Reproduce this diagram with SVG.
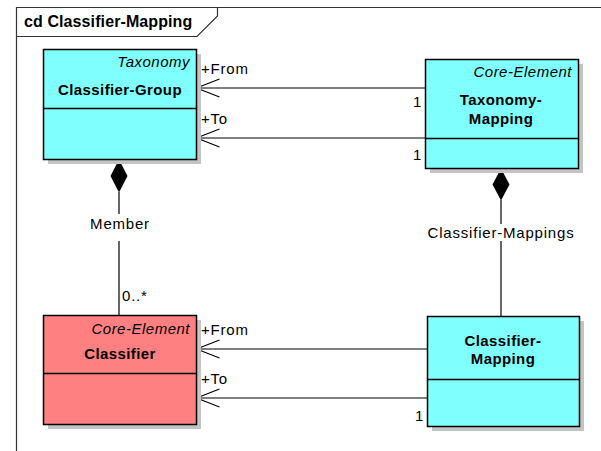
<svg xmlns="http://www.w3.org/2000/svg" width="601" height="451" viewBox="0 0 601 451">
<style>
text{font-family:"Liberation Sans",Arial,sans-serif;fill:#000}
.t{font-size:15px;letter-spacing:0.8px}
.b{font-weight:bold;letter-spacing:0.4px}
.i{font-style:italic;letter-spacing:0.5px}
.box{stroke:#000;stroke-width:1.5}
.sh{fill:#c4c4c4}
.cy{fill:#80ffff}
.rd{fill:#ff8080}
.ln{stroke:#000;stroke-width:1.2;fill:none}
.mid{text-anchor:middle}
.end{text-anchor:end}
</style>
<defs>
<marker id="open" markerWidth="26" markerHeight="22" refX="24" refY="10" orient="auto" markerUnits="userSpaceOnUse">
<path d="M1,1 L24,10 L1,19" fill="none" stroke="#000" stroke-width="1.2"/>
</marker>
</defs>
<rect width="601" height="451" fill="#fff"/>
<g id="frame">
<path d="M16.5,451 V7.5 H601" fill="none" stroke="#333" stroke-width="1.2"/>
<path d="M16.5,36.5 H197 L217.5,16 V7.5" fill="none" stroke="#333" stroke-width="1.2"/>
<text x="24" y="27" style="font-size:16px;font-weight:bold;letter-spacing:0.1px">cd Classifier-Mapping</text>
</g>
<g id="connectors">
<line class="ln" x1="425" y1="88" x2="196.5" y2="88" marker-end="url(#open)"/>
<line class="ln" x1="425" y1="138" x2="196.5" y2="138" marker-end="url(#open)"/>
<line class="ln" x1="427" y1="349" x2="196.5" y2="349" marker-end="url(#open)"/>
<line class="ln" x1="427" y1="398" x2="196.5" y2="398" marker-end="url(#open)"/>
<text x="201" y="74" class="t">+From</text>
<text x="201" y="124" class="t">+To</text>
<text x="201" y="335" class="t">+From</text>
<text x="201" y="384" class="t">+To</text>
<text x="413" y="107" class="t">1</text>
<text x="413" y="160" class="t">1</text>
<text x="415" y="421" class="t">1</text>
<path d="M119,159.5 L127.5,176 L119,192.5 L110.5,176 Z" fill="#000"/>
<line class="ln" x1="119" y1="192" x2="119" y2="214"/>
<line class="ln" x1="119" y1="241" x2="119" y2="315"/>
<text x="120" y="229" class="t mid">Member</text>
<text x="122" y="301" class="t">0..*</text>
<path d="M501,168.5 L509.5,184.5 L501,200.5 L492.5,184.5 Z" fill="#000"/>
<line class="ln" x1="501" y1="200" x2="501" y2="224"/>
<line class="ln" x1="501" y1="241" x2="501" y2="316"/>
<text x="501" y="238" class="t mid">Classifier-Mappings</text>
</g>
<g id="classifier-group">
<rect class="sh" x="48" y="54" width="153" height="110"/>
<rect class="box cy" x="43.5" y="49.5" width="153" height="110"/>
<line class="box" x1="43.5" y1="108.5" x2="196.5" y2="108.5"/>
<text x="190" y="67" class="t i end">Taxonomy</text>
<text x="120" y="95" class="t b mid">Classifier-Group</text>
</g>
<g id="taxonomy-mapping">
<rect class="sh" x="430" y="64" width="153" height="109"/>
<rect class="box cy" x="425.5" y="59.5" width="153" height="109"/>
<line class="box" x1="425.5" y1="138.5" x2="578.5" y2="138.5"/>
<text x="572" y="77" class="t i end">Core-Element</text>
<text x="501" y="105" class="t b mid">Taxonomy-</text>
<text x="501" y="124" class="t b mid">Mapping</text>
</g>
<g id="classifier">
<rect class="sh" x="48" y="320" width="153" height="109"/>
<rect class="box rd" x="43.5" y="315.5" width="153" height="109"/>
<line class="box" x1="43.5" y1="373.5" x2="196.5" y2="373.5"/>
<text x="190" y="334" class="t i end">Core-Element</text>
<text x="120" y="359" class="t b mid">Classifier</text>
</g>
<g id="classifier-mapping">
<rect class="sh" x="432" y="321" width="152" height="110"/>
<rect class="box cy" x="427.5" y="316.5" width="152" height="110"/>
<line class="box" x1="427.5" y1="379.5" x2="579.5" y2="379.5"/>
<text x="503" y="346" class="t b mid">Classifier-</text>
<text x="503" y="364" class="t b mid">Mapping</text>
</g>
</svg>
